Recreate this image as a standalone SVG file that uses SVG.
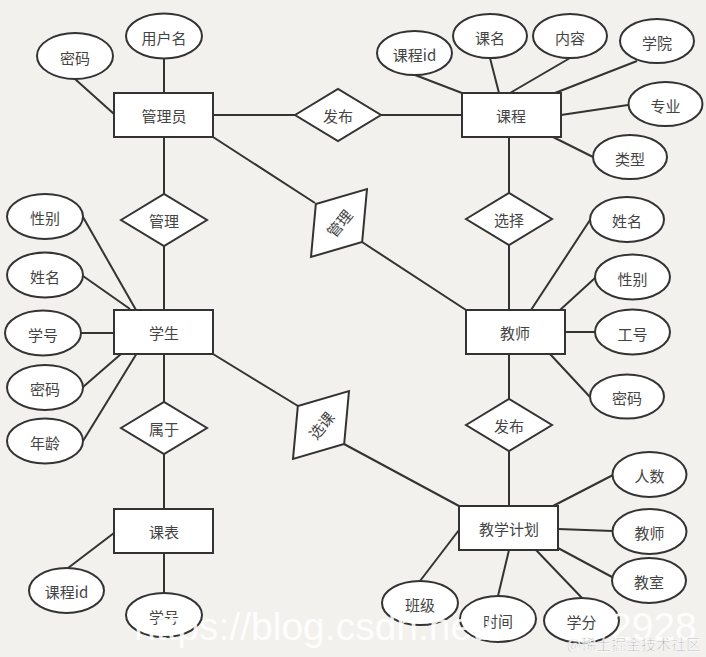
<svg xmlns="http://www.w3.org/2000/svg" width="706" height="657" viewBox="0 0 706 657">
<style>
.bg{fill:#f2f1ee}
.e,.r,.d{fill:#ffffff;stroke:#333333;stroke-width:2}
.c line{stroke:#333333;stroke-width:2}
text{font-family:"Microsoft YaHei","Noto Sans CJK SC","Liberation Sans",sans-serif;font-size:15px;fill:#444444;text-anchor:middle;dominant-baseline:central}
.wm{font-family:"Liberation Sans",Arial,sans-serif;font-size:39px;fill:#ffffff;fill-opacity:0.9;text-anchor:start;dominant-baseline:alphabetic}
.wm2{font-family:"Noto Sans CJK SC",sans-serif;font-size:15px;fill:#9a9a9a;stroke:#ffffff;stroke-width:0.6;text-anchor:end;dominant-baseline:central}
</style>
<defs>
<polygon id="dia" points="-43,0 0,-26 43,0 0,26"/>
<polygon id="sdia" points="-44,0 0,-30 44,0 0,30"/>
</defs>
<rect class="bg" x="0" y="0" width="706" height="657"/>
<g id="connectors" class="c">
<line x1="213" y1="115" x2="295" y2="115"/>
<line x1="381" y1="115" x2="462" y2="115"/>
<line x1="164" y1="137" x2="164" y2="194"/>
<line x1="164" y1="246" x2="164" y2="310"/>
<line x1="164" y1="354" x2="164" y2="402"/>
<line x1="164" y1="454" x2="164" y2="509"/>
<line x1="509" y1="137" x2="509" y2="193"/>
<line x1="509" y1="245" x2="509" y2="310"/>
<line x1="509" y1="354" x2="509" y2="399"/>
<line x1="509" y1="451" x2="509" y2="506"/>
<line x1="213" y1="137" x2="315" y2="203"/>
<line x1="362" y1="242" x2="466" y2="310"/>
<line x1="213" y1="354" x2="298" y2="406"/>
<line x1="344" y1="444" x2="459" y2="506"/>
<line x1="75" y1="79" x2="114" y2="114"/>
<line x1="164" y1="58" x2="164" y2="93"/>
<line x1="415" y1="75" x2="462" y2="93"/>
<line x1="490" y1="58" x2="499" y2="93"/>
<line x1="570" y1="58" x2="510" y2="93"/>
<line x1="637" y1="61" x2="555" y2="93"/>
<line x1="628" y1="105" x2="561" y2="115"/>
<line x1="593" y1="157" x2="553" y2="137"/>
<line x1="83" y1="217" x2="136" y2="310"/>
<line x1="83" y1="276" x2="130" y2="309"/>
<line x1="81" y1="333" x2="114" y2="333"/>
<line x1="83" y1="387" x2="121" y2="354"/>
<line x1="83" y1="441" x2="137" y2="353"/>
<line x1="590" y1="220" x2="531" y2="310"/>
<line x1="595" y1="278" x2="560" y2="310"/>
<line x1="565" y1="332" x2="595" y2="332"/>
<line x1="550" y1="354" x2="590" y2="397"/>
<line x1="68" y1="568" x2="114" y2="533"/>
<line x1="164" y1="553" x2="164" y2="593"/>
<line x1="613" y1="475" x2="553" y2="506"/>
<line x1="558" y1="529" x2="613" y2="531"/>
<line x1="558" y1="548" x2="612" y2="577"/>
<line x1="459" y1="530" x2="420" y2="581"/>
<line x1="509" y1="550" x2="498" y2="596"/>
<line x1="536" y1="550" x2="582" y2="598"/>
</g>
<g id="n-admin"><rect class="r" x="114" y="93" width="99" height="44"/><text x="164" y="115">管理员</text></g>
<g id="n-course"><rect class="r" x="462" y="93" width="99" height="44"/><text x="511" y="115">课程</text></g>
<g id="n-student"><rect class="r" x="114" y="310" width="99" height="44"/><text x="164" y="332">学生</text></g>
<g id="n-teacher"><rect class="r" x="466" y="310" width="99" height="44"/><text x="515" y="332">教师</text></g>
<g id="n-timetable"><rect class="r" x="114" y="509" width="99" height="44"/><text x="164" y="531">课表</text></g>
<g id="n-plan"><rect class="r" x="459" y="506" width="99" height="44"/><text x="509" y="528">教学计划</text></g>
<g id="r-publish1"><use href="#dia" class="d" x="338" y="115"/><text x="338" y="115">发布</text></g>
<g id="r-manage1"><use href="#dia" class="d" x="164" y="220"/><text x="164" y="220">管理</text></g>
<g id="r-choose"><use href="#dia" class="d" x="509" y="219"/><text x="509" y="219">选择</text></g>
<g id="r-belong"><use href="#dia" class="d" x="164" y="428"/><text x="164" y="428">属于</text></g>
<g id="r-publish2"><use href="#dia" class="d" x="509" y="425"/><text x="509" y="425">发布</text></g>
<g id="r-manage2" transform="translate(339,223) rotate(-50.5)"><use href="#sdia" class="d"/><text x="0" y="0">管理</text></g>
<g id="r-select" transform="translate(321,425) rotate(-50.5)"><use href="#sdia" class="d"/><text x="0" y="0">选课</text></g>
<g id="a-admin-pwd"><ellipse class="e" cx="75" cy="56" rx="38" ry="23"/><text x="75" y="57">密码</text></g>
<g id="a-admin-user"><ellipse class="e" cx="164" cy="36" rx="38" ry="22.5"/><text x="164" y="37">用户名</text></g>
<g id="a-course-id"><ellipse class="e" cx="414.5" cy="53" rx="37.5" ry="22"/><text x="414.5" y="54">课程id</text></g>
<g id="a-course-name"><ellipse class="e" cx="490" cy="36" rx="37" ry="22"/><text x="490" y="37">课名</text></g>
<g id="a-course-content"><ellipse class="e" cx="570" cy="36" rx="37" ry="22"/><text x="570" y="37">内容</text></g>
<g id="a-course-college"><ellipse class="e" cx="657" cy="41" rx="37" ry="22"/><text x="657" y="42">学院</text></g>
<g id="a-course-major"><ellipse class="e" cx="665.5" cy="104" rx="37" ry="22"/><text x="665.5" y="105">专业</text></g>
<g id="a-course-type"><ellipse class="e" cx="630" cy="157" rx="37" ry="22"/><text x="630" y="158">类型</text></g>
<g id="a-stu-sex"><ellipse class="e" cx="45" cy="216.5" rx="38" ry="22.5"/><text x="45" y="217">性别</text></g>
<g id="a-stu-name"><ellipse class="e" cx="45" cy="275" rx="38" ry="22.5"/><text x="45" y="276">姓名</text></g>
<g id="a-stu-no"><ellipse class="e" cx="43" cy="333" rx="38" ry="22.5"/><text x="43" y="334">学号</text></g>
<g id="a-stu-pwd"><ellipse class="e" cx="45" cy="387.5" rx="38" ry="22.5"/><text x="45" y="388">密码</text></g>
<g id="a-stu-age"><ellipse class="e" cx="45" cy="441" rx="38" ry="22.5"/><text x="45" y="442">年龄</text></g>
<g id="a-tea-name"><ellipse class="e" cx="627" cy="219.5" rx="37" ry="22.5"/><text x="627" y="220">姓名</text></g>
<g id="a-tea-sex"><ellipse class="e" cx="632.5" cy="277" rx="37.5" ry="22.5"/><text x="632.5" y="278">性别</text></g>
<g id="a-tea-no"><ellipse class="e" cx="632.5" cy="332" rx="37.5" ry="22.5"/><text x="632.5" y="333">工号</text></g>
<g id="a-tea-pwd"><ellipse class="e" cx="627" cy="396.5" rx="37" ry="22"/><text x="627" y="397">密码</text></g>
<g id="a-tt-id"><ellipse class="e" cx="66.5" cy="590.5" rx="37.5" ry="22.5"/><text x="66.5" y="591">课程id</text></g>
<g id="a-tt-no"><ellipse class="e" cx="164" cy="615" rx="38" ry="22"/><text x="164" y="616">学号</text></g>
<g id="a-plan-num"><ellipse class="e" cx="649.5" cy="474.5" rx="37" ry="22.5"/><text x="649.5" y="475">人数</text></g>
<g id="a-plan-teacher"><ellipse class="e" cx="649.5" cy="531.5" rx="37" ry="22.5"/><text x="649.5" y="532">教师</text></g>
<g id="a-plan-room"><ellipse class="e" cx="649" cy="580.5" rx="37" ry="22.5"/><text x="649" y="581">教室</text></g>
<g id="a-plan-class"><ellipse class="e" cx="420" cy="603" rx="38" ry="22"/><text x="420" y="604">班级</text></g>
<g id="a-plan-time"><ellipse class="e" cx="498" cy="619" rx="38" ry="23"/><text x="498" y="620">时间</text></g>
<g id="a-plan-credit"><ellipse class="e" cx="581.5" cy="620.5" rx="37.5" ry="22.5"/><text x="581.5" y="621">学分</text></g>
<g id="watermark">
<text class="wm" x="134" y="640">https://blog.csdn.net/</text>
<text class="wm" x="610" y="640">2928</text>
<text class="wm2" x="701" y="643">@稀土掘金技术社区</text>
</g>
</svg>
